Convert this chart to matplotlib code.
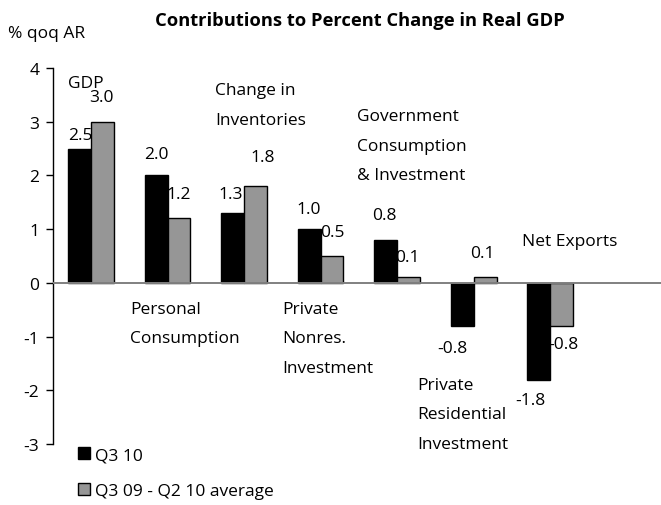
import matplotlib
matplotlib.use("Agg")
import matplotlib.pyplot as plt
from matplotlib.patches import Patch

# Contributions to percent change in real GDP (% qoq AR)
categories = [
    ["GDP"],
    ["Personal", "Consumption"],
    ["Change in", "Inventories"],
    ["Private", "Nonres.", "Investment"],
    ["Government", "Consumption", "& Investment"],
    ["Private", "Residential", "Investment"],
    ["Net Exports"],
]
q3_10 = [2.5, 2.0, 1.3, 1.0, 0.8, -0.8, -1.8]
q3_09_q2_10_avg = [3.0, 1.2, 1.8, 0.5, 0.1, 0.1, -0.8]
series_names = ["Q3 10", "Q3 09 - Q2 10 average"]
yticks = [-3, -2, -1, 0, 1, 2, 3, 4]

# placement of the category captions (left x, centre y of first line) in data units
cat_pos = [(-0.30, 3.72), (0.51, -0.48), (1.62, 3.59), (2.50, -0.48),
           (3.48, 3.10), (4.27, -1.90), (5.63, 0.78)]
# placement of the value labels (centre) in data units
lab_pos_a = [(-0.14, 2.76), (0.86, 2.40), (1.82, 1.66), (2.84, 1.38),
             (3.84, 1.26), (4.72, -1.21), (5.74, -2.18)]
lab_pos_b = [(0.14, 3.46), (1.14, 1.66), (2.24, 2.35), (3.16, 0.95),
             (4.13, 0.48), (5.12, 0.56), (6.17, -1.14)]

plt.rcParams['font.family'] = ['Open Sans', 'DejaVu Sans']
FS = 12.5
plt.rcParams['font.size'] = FS

BLACK = "#000000"
GREY = "#969696"

fig = plt.figure(figsize=(6.61, 5.06), dpi=100)
ax = fig.add_axes([53 / 661, 61 / 506, 1 - 53 / 661, 376 / 506])

x = list(range(len(categories)))
w = 0.3
ax.bar([i - w / 2 for i in x], q3_10, width=w, color=BLACK,
       edgecolor="black", linewidth=1, zorder=2)
ax.bar([i + w / 2 for i in x], q3_09_q2_10_avg, width=w, color=GREY,
       edgecolor="black", linewidth=1, zorder=2)

ax.axhline(0, color="#808080", lw=1.4, zorder=3)

ax.set_xlim(-0.497, 7.45)
ax.set_ylim(-3, 4)
ax.set_yticks(yticks)
ax.set_yticklabels([str(t) for t in yticks])
ax.set_xticks([])
for s in ("top", "right", "bottom"):
    ax.spines[s].set_visible(False)
ax.spines["left"].set_linewidth(1)
ax.tick_params(axis="y", direction="out", length=5, width=1, pad=4.8,
               labelsize=FS)

# value labels
for v, (lx, ly) in zip(q3_10, lab_pos_a):
    ax.text(lx, ly, f"{v:.1f}", ha="center", va="center", fontsize=FS)
for v, (lx, ly) in zip(q3_09_q2_10_avg, lab_pos_b):
    ax.text(lx, ly, f"{v:.1f}", ha="center", va="center", fontsize=FS)

# category captions, one line at a time
line_step = -29.5 * 72 / 100  # points
for lines, (cx, cy) in zip(categories, cat_pos):
    for k, line in enumerate(lines):
        ax.annotate(line, xy=(cx, cy), xytext=(0, k * line_step),
                    textcoords="offset points", ha="left", va="center",
                    fontsize=FS, annotation_clip=False)

fig.text(360 / 661, 1 - 21 / 506, "Contributions to Percent Change in Real GDP",
         ha="center", va="center", fontsize=13.2, fontweight="bold")
fig.text(8 / 661, 1 - 34 / 506, "% qoq AR", ha="left", va="center", fontsize=FS)

handles = [Patch(facecolor=BLACK, edgecolor="black"),
           Patch(facecolor=GREY, edgecolor="black")]
fig.legend(handles, series_names, loc="upper left",
           bbox_to_anchor=(78 / 661, 1 - 448 / 506), frameon=False,
           borderpad=0, borderaxespad=0, handlelength=0.7, handleheight=0.7,
           handletextpad=0.3, labelspacing=1.15, fontsize=FS)

fig.savefig("out.png", dpi=100)
